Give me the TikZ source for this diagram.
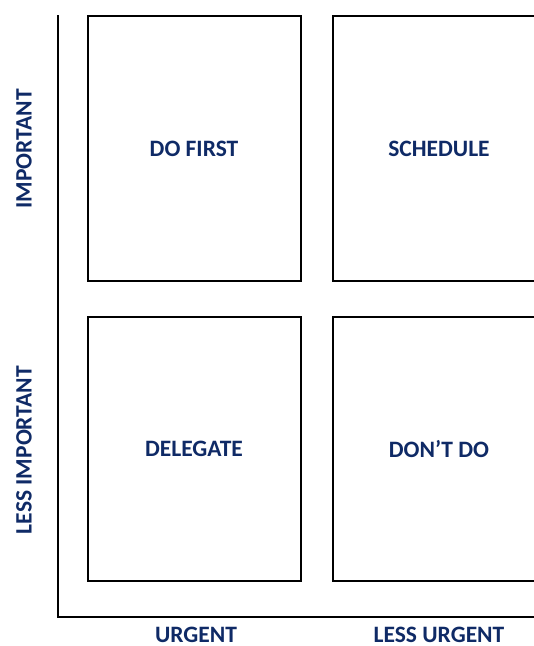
\documentclass[tikz,border=0pt]{standalone}
\usepackage{fontspec}
\setmainfont{Carlito}
\definecolor{navy}{HTML}{0F2A66}
\begin{document}
\begin{tikzpicture}[x=1pt,y=-1pt,
  quad/.style={draw=black,line width=2pt},
  lbl/.style={text=navy,font=\fontsize{23.5}{28}\selectfont\bfseries,inner sep=0pt},
  axis/.style={draw=black,line width=2pt}]
\useasboundingbox (0,0) rectangle (534,646);
\clip (0,0) rectangle (534,646);
% quadrants
\draw[quad] (88,16) rectangle (301,281);
\draw[quad] (333,16) rectangle (560,281);
\draw[quad] (88,317) rectangle (301,581);
\draw[quad] (333,317) rectangle (560,581);
% axes
\coordinate (top) at (57.5,15);
\coordinate (origin) at (57.5,616.5);
\coordinate (right) at (560,616.5);
\draw[axis] (top) -- (origin) -- (right);
% quadrant labels
\node[lbl] (q1) at (194,149) {DO FIRST};
\node[lbl] (q2) at (439,149) {SCHEDULE};
\node[lbl] (q3) at (194,449) {DELEGATE};
\node[lbl] (q4) at (439,449) {DON’T DO};
% axis labels
\node[lbl,rotate=90] (imp) at (24,149) {IMPORTANT};
\node[lbl,rotate=90] (limp) at (24,450) {LESS IMPORTANT};
\node[lbl] (urg) at (196,634.5) {URGENT};
\node[lbl] (lurg) at (439,634.5) {LESS URGENT};
\end{tikzpicture}
\end{document}
